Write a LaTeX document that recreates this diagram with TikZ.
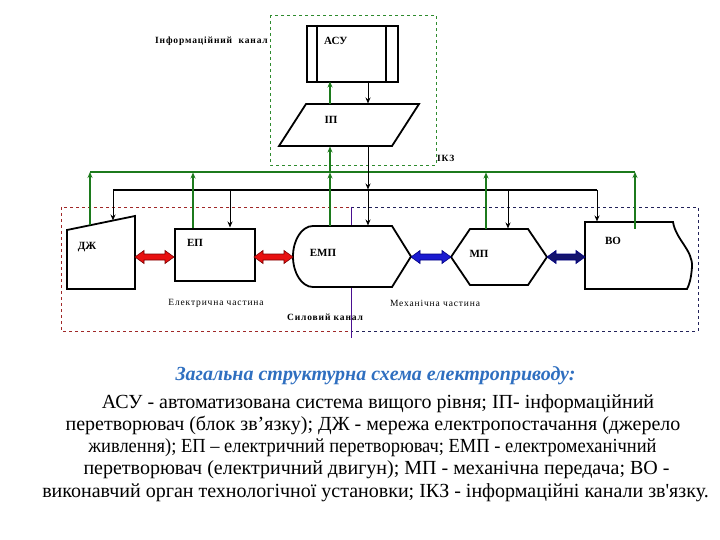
\documentclass[tikz,border=0pt]{standalone}
\usepackage{fontspec}
\defaultfontfeatures[\rmfamily]{}
\setmainfont{Liberation Serif}
\usetikzlibrary{arrows.meta,calc}
\definecolor{gdash}{HTML}{2E8B2E}
\definecolor{gline}{HTML}{1C7A1C}
\definecolor{rdash}{HTML}{A02828}
\definecolor{bdash}{HTML}{22225A}
\definecolor{purp}{HTML}{4A1090}
\definecolor{ttl}{HTML}{2F6FC0}
\definecolor{redf}{HTML}{E81010}
\definecolor{redd}{HTML}{7A0000}
\definecolor{bluef}{HTML}{1A1AD0}
\definecolor{blued}{HTML}{000080}
\definecolor{navyf}{HTML}{14146E}
\newcommand{\dblarr}[4]{%
  \path[fill=#3,draw=#4,line width=0.6pt] let \p1=(#1), \p2=(#2) in
    (\x1,\y1) -- (\x1+9pt,\y1+6.5pt) -- (\x1+9pt,\y1+3pt) -- (\x2-9pt,\y1+3pt)
    -- (\x2-9pt,\y1+6.5pt) -- (\x2,\y1) -- (\x2-9pt,\y1-6.5pt) -- (\x2-9pt,\y1-3pt)
    -- (\x1+9pt,\y1-3pt) -- (\x1+9pt,\y1-6.5pt) -- cycle;}
\begin{document}
\begin{tikzpicture}[x=1pt,y=-1pt,
  shp/.style={draw=black,line width=1.8pt,fill=white,line join=miter},
  lbl/.style={font=\bfseries\fontsize{11}{13}\selectfont,inner sep=0},
  sml/.style={font=\fontsize{9.5}{11}\selectfont\addfontfeature{LetterSpace=9},inner sep=0},
  smlb/.style={font=\bfseries\fontsize{9.5}{11}\selectfont\addfontfeature{LetterSpace=9},inner sep=0},
  garr/.style={draw=gline,line width=1.6pt,-{Stealth[length=6pt,width=5pt]}},
  karr/.style={draw=black,line width=1pt,-{Stealth[length=6pt,width=5pt]}},
  captxt/.style={font=\fontsize{20}{24}\selectfont,inner sep=0,anchor=base}]
\useasboundingbox (0,0) rectangle (720,540);
% dashed frames
\draw[gdash,dashed,line width=0.8pt] (270,15) rectangle (436,165);
\draw[rdash,dashed,line width=0.8pt] (61,207) rectangle (351,331);
\draw[bdash,dashed,line width=0.8pt] (351,207) -- (698,207) -- (698,331) -- (351,331);
\draw[purp,line width=0.8pt] (351,207) -- (351,338);
% shapes
\node[shp,minimum width=91pt,minimum height=56pt,anchor=north west,inner sep=0] (asu) at (306,25) {};
\draw[line width=1.8pt] (317,25) -- (317,81) (386,25) -- (386,81);
\node[lbl,anchor=west] (asul) at (324,41) {АСУ};
\draw[shp] (306,104) -- (419,104) -- (392,146) -- (279,146) -- cycle;
\node[lbl] (ip) at (331,120) {ІП};
\draw[shp] (67,230) -- (135,216) -- (135,289) -- (67,289) -- cycle;
\node[lbl] (dzh) at (87,247) {ДЖ};
\node[shp,minimum width=80pt,minimum height=52pt,anchor=north west,inner sep=0] (ep) at (174,228) {};
\node[lbl] (epl) at (195,243) {ЕП};
\draw[shp] (313,226) -- (392,226) -- (411,256.5) -- (392,287) -- (313,287)
  arc[start angle=270,end angle=90,x radius=20pt,y radius=30.5pt] -- cycle;
\node[lbl] (emp) at (323,253) {ЕМП};
\draw[shp] (470,229) -- (528,229) -- (547,257) -- (528,285) -- (470,285) -- (451,257) -- cycle;
\node[lbl] (mp) at (479,254) {МП};
\draw[shp] (585,222) -- (673,222) .. controls (676,240) and (693,250) .. (692,267)
  .. controls (691,280) and (689,285) .. (687,289) -- (585,289) -- cycle;
\node[lbl] (vo) at (613,241) {ВО};
% coordinates
\coordinate (d1) at (135,257); \coordinate (e1) at (174,257);
\coordinate (e2) at (254,257); \coordinate (m1) at (293,257);
\coordinate (m2) at (411,257); \coordinate (p1) at (451,257);
\coordinate (p2) at (547,257); \coordinate (v1) at (585,257);
% power arrows
\dblarr{d1}{e1}{redf}{redd}
\dblarr{e2}{m1}{redf}{redd}
\dblarr{m2}{p1}{bluef}{blued}
\dblarr{p2}{v1}{navyf}{blued}
% buses
\coordinate (gL) at (90,172); \coordinate (gR) at (635,172);
\coordinate (kL) at (113,190); \coordinate (kR) at (597,190);
\draw[gline,line width=1.6pt] (gL) -- (gR);
\draw[black,line width=1.2pt] (kL) -- (kR);
% info arrows top
\draw[garr] (330,104) -- (330,81.5);
\draw[karr] (368,81) -- (368,103.5);
\draw[garr] (330,172) -- (330,146.5);
\draw[karr] (368,146) -- (368,189.5);
% green feedback
\draw[garr] (90,225.5) -- (gL);
\draw[garr] (193,228) -- (193,172.5);
\draw[garr] (330,226) -- (330,172.5);
\draw[garr] (486,229) -- (486,172.5);
\draw[garr] (635,229) -- (gR);
% black control
\draw[karr] (kL) -- (113,220.5);
\draw[karr] (230,190) -- (230,227.5);
\draw[karr] (368,190) -- (368,225.5);
\draw[karr] (508,190) -- (508,228.5);
\draw[karr] (kR) -- (597,221.5);
% small labels
\node[smlb,anchor=east] (inf) at (268,41) {Інформаційний\ \ канал};
\node[smlb,anchor=west] (ikz) at (437,158) {ІКЗ};
\node[sml] (el) at (216,303) {Електрична частина};
\node[sml] (me) at (435,303) {Механічна частина};
\node[smlb] (sk) at (325,317) {Силовий канал};
% caption
\node[captxt,font=\bfseries\itshape\fontsize{20}{24}\selectfont,text=ttl] (t0) at (375.5,380) {Загальна структурна схема електроприводу:};
\node[captxt] (t1) at (378,408) {АСУ - автоматизована система вищого рівня; ІП- інформаційний};
\node[captxt] (t2) at (373,430.3) {перетворювач (блок зв’язку); ДЖ - мережа електропостачання (джерело};
\node[captxt] (t3) at (372.5,452.6) {\scalebox{0.923}[1]{живлення); ЕП – електричний перетворювач; ЕМП - електромеханічний}};
\node[captxt] (t4) at (376.5,474.9) {перетворювач (електричний двигун); МП - механічна передача; ВО -};
\node[captxt] (t5) at (375.5,497.2) {виконавчий орган технологічної установки; ІКЗ - інформаційні канали зв'язку.};
\end{tikzpicture}
\end{document}
